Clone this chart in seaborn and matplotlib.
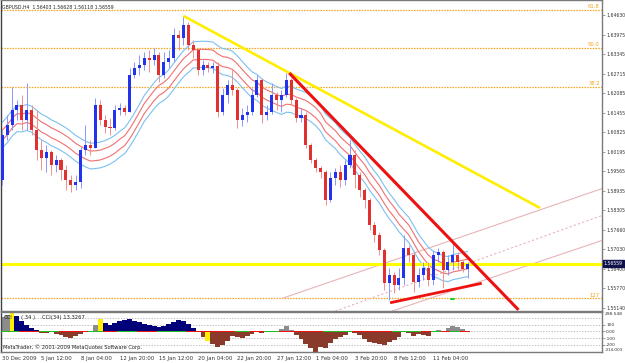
import numpy as np
import pandas as pd
import matplotlib
matplotlib.use("Agg")
import matplotlib.pyplot as plt
import matplotlib.transforms as mtrans
import seaborn as sns

# ---------------- data ----------------
title_text = "GBPUSD,H4  1.56403 1.56628 1.56118 1.56559"
first_open = 1.5928
close = [1.6073, 1.6106, 1.6154, 1.6171, 1.6122, 1.6154, 1.6090, 1.6025, 1.5999, 1.6018,
         1.5976, 1.5992, 1.5960, 1.5928, 1.5911, 1.5921, 1.6025, 1.6041, 1.6031, 1.6171,
         1.6122, 1.6099, 1.6096, 1.6154, 1.6161, 1.6148, 1.6268, 1.6290, 1.6300, 1.6323,
         1.6316, 1.6332, 1.6268, 1.6310, 1.6323, 1.6397, 1.6388, 1.6430, 1.6365, 1.6349,
         1.6284, 1.6300, 1.6290, 1.6297, 1.6148, 1.6203, 1.6235, 1.6219, 1.6122, 1.6138,
         1.6148, 1.6203, 1.6251, 1.6138, 1.6148, 1.6203, 1.6187, 1.6203, 1.6251, 1.6187,
         1.6128, 1.6138, 1.6041, 1.5992, 1.5966, 1.5954, 1.5863, 1.5934, 1.5954, 1.5928,
         1.5976, 1.6009, 1.5944, 1.5895, 1.5863, 1.5782, 1.5749, 1.5701, 1.5594, 1.5620,
         1.5588, 1.5610, 1.5707, 1.5685, 1.5597, 1.5620, 1.5643, 1.5604, 1.5685, 1.5694,
         1.5636, 1.5662, 1.5685, 1.5662, 1.5640, 1.56559]
high = [1.6090, 1.6138, 1.6229, 1.6187, 1.6203, 1.6242, 1.6171, 1.6154, 1.6057, 1.6041,
        1.6025, 1.6009, 1.5999, 1.5976, 1.5944, 1.5944, 1.6034, 1.6106, 1.6057, 1.6193,
        1.6187, 1.6138, 1.6128, 1.6171, 1.6177, 1.6171, 1.6290, 1.6310, 1.6332, 1.6342,
        1.6349, 1.6355, 1.6342, 1.6342, 1.6349, 1.6420, 1.6413, 1.6459, 1.6439, 1.6381,
        1.6355, 1.6316, 1.6310, 1.6310, 1.6310, 1.6226, 1.6251, 1.6284, 1.6226, 1.6161,
        1.6171, 1.6226, 1.6268, 1.6258, 1.6171, 1.6242, 1.6213, 1.6219, 1.6274, 1.6258,
        1.6193, 1.6161, 1.6148, 1.6047, 1.5999, 1.5973, 1.5960, 1.5954, 1.5966, 1.5976,
        1.5992, 1.6057, 1.6025, 1.5954, 1.5902, 1.5869, 1.5792, 1.5759, 1.5707, 1.5643,
        1.5630, 1.5643, 1.5749, 1.5717, 1.5694, 1.5643, 1.5662, 1.5662, 1.5698, 1.5707,
        1.5701, 1.5685, 1.5724, 1.5694, 1.5669, 1.56628]
low = [1.5911, 1.6057, 1.6090, 1.6122, 1.6090, 1.6090, 1.6073, 1.5992, 1.5960, 1.5954,
       1.5944, 1.5954, 1.5928, 1.5895, 1.5889, 1.5895, 1.5902, 1.6009, 1.6009, 1.6031,
       1.6106, 1.6080, 1.6073, 1.6090, 1.6138, 1.6138, 1.6148, 1.6258, 1.6268, 1.6284,
       1.6277, 1.6300, 1.6245, 1.6258, 1.6290, 1.6310, 1.6349, 1.6365, 1.6349, 1.6323,
       1.6268, 1.6268, 1.6277, 1.6274, 1.6132, 1.6138, 1.6177, 1.6203, 1.6096, 1.6102,
       1.6115, 1.6138, 1.6196, 1.6112, 1.6122, 1.6141, 1.6154, 1.6148, 1.6196, 1.6171,
       1.6115, 1.6115, 1.6031, 1.5983, 1.5954, 1.5934, 1.5847, 1.5856, 1.5911, 1.5905,
       1.5911, 1.5966, 1.5902, 1.5873, 1.5837, 1.5766, 1.5727, 1.5685, 1.5571, 1.5539,
       1.5562, 1.5571, 1.5588, 1.5662, 1.5565, 1.5581, 1.5604, 1.5584, 1.5588, 1.5662,
       1.5578, 1.5620, 1.5636, 1.5636, 1.5630, 1.56118]

cci = [220, 250, 297, 235, 160, 95, 50, 20, -25, -25,
       -10, -40, -60, -90, -95, -75, -40, -10, 5, 95,
       190, 125, 95, 125, 160, 175, 190, 160, 145, 110,
       95, 80, 65, 80, 110, 145, 175, 160, 110, 50,
       -10, -90, -150, -195, -240, -210, -150, -75, -90, -100,
       -75, -40, -10, -25, -10, 5, -10, 35, 80, 20,
       -60, -120, -195, -255, -314, -240, -255, -180, -120, -90,
       -60, -10, -25, -60, -120, -165, -180, -195, -210, -165,
       -135, -90, -10, -25, -75, -40, -60, -75, -10, 20,
       5, 50, 80, 65, 35, 13.3]
cci_state = ("gg" + "y" + "n" * 5 + "b" * 10 + "gg" + "y" + "n" * 19 + "bb" + "y"
             + "b" * 12 + "g" + "b" + "ggg" + "b" * 29 + "g" * 7)
zero_state = ("g" * 4 + "r" * 4 + "g" * 4 + "r" * 6 + "g" * 3 + "r" * 3 + "g" * 4 + "r" * 4
              + "g" * 6 + "r" * 10 + "g" * 3 + "r" * 3 + "g" * 3 + "r" * 9 + "g" * 6 + "r" * 8
              + "g" * 6 + "r" * 2 + "g" * 2 + "r" * 2 + "g" * 2 + "r" * 2)

time_labels = ["30 Dec 2009", "5 Jan 12:00", "8 Jan 04:00", "12 Jan 20:00", "15 Jan 12:00",
               "20 Jan 04:00", "22 Jan 20:00", "27 Jan 12:00", "1 Feb 04:00", "3 Feb 20:00",
               "8 Feb 12:00", "11 Feb 04:00"]
time_label_bars = [0, 8, 16, 24, 32, 40, 48, 56, 64, 72, 80, 88]
price_labels = ["1.64630", "1.63975", "1.63345", "1.62715", "1.62085", "1.61455", "1.60825",
                "1.60195", "1.59565", "1.58935", "1.58305", "1.57660", "1.57030", "1.56400",
                "1.55770", "1.55140"]
last_price = 1.56559

fib_levels = [1.6477, 1.6354, 1.6230, 1.5544]
fib_names = ["61.8", "50.0", "38.2", "127"]

yellow_trend_bars = [37.0, 109.8]
yellow_trend_prices = [1.6459, 1.5837]
red_trend_bars = [58.6, 105.4]
red_trend_prices = [1.6274, 1.5507]
support_bars = [79.2, 97.9]
support_prices = [1.5530, 1.5593]
chan_upper_bars = [57.1, 122.7]
chan_upper_prices = [1.5544, 1.5901]
chan_mid_bars = [68.0, 122.7]
chan_mid_prices = [1.5503, 1.5814]
chan_lower_bars = [79.6, 122.7]
chan_lower_prices = [1.5503, 1.5733]
green_mark_bars = [91.7, 92.3]
green_mark_prices = [1.5542, 1.5542]

ma_period = 14
env_inner = 0.0010
env_outer = 0.0026

cci_top_label = "298.548"
cci_bottom_label = "-314.003"
cci_ticks = [100, 0, -100, -200]
cci_tick_labels = ["100", "0.00", "-100", "-200"]
cci_grid = [200, 100, 0, -100, -200]

# ---------------- build ----------------
sns.set_theme(style="white")
plt.rcParams["font.family"] = ["DejaVu Sans"]

n = len(close)
bars = np.arange(n)
opens = np.array([first_open] + close[:-1])
closes = np.array(close)
highs = np.array(high)
lows = np.array(low)
df = pd.DataFrame({"bar": bars, "open": opens, "close": closes, "high": highs, "low": lows})
ma = df["close"].rolling(ma_period, min_periods=1).mean()
lines_df = pd.DataFrame({
    "bar": bars,
    "blue_up": ma * (1 + env_outer), "blue_dn": ma * (1 - env_outer),
    "red_up": ma * (1 + env_inner), "red_dn": ma * (1 - env_inner),
})

W, H = 625, 363
fig = plt.figure(figsize=(W / 100, H / 100), dpi=100)
fig.patch.set_facecolor("white")
ax = fig.add_axes([1 / W, 1 - 311 / H, 601 / W, 311 / H])
cax = fig.add_axes([1 / W, 1 - 352 / H, 601 / W, 40 / H])

xlim = (-0.25, 122.45)
frame_col = "#7a7a7a"
lab_fs = 3.35

# main panel
ax.set_facecolor("white")
ax.set_xlim(*xlim)
ax.set_ylim(1.55033, 1.65106)

for lvl, name in zip(fib_levels, fib_names):
    ax.axhline(lvl, color="#f4a41c", lw=0.9, ls=(0, (1.2, 1.0)), zorder=1)
    ax.text(122.0, lvl + 0.0003, name, color="#f4a41c", fontsize=3.8,
            ha="right", va="bottom", zorder=2)

ax.plot(chan_upper_bars, chan_upper_prices, color="#e8b4b8", lw=0.8, zorder=1)
ax.plot(chan_mid_bars, chan_mid_prices, color="#e8b4b8", lw=0.8, ls=(0, (2, 2)), zorder=1)
ax.plot(chan_lower_bars, chan_lower_prices, color="#e8b4b8", lw=0.8, zorder=1)

for col, c in [("blue_up", "#7cc0f0"), ("blue_dn", "#7cc0f0"),
               ("red_up", "#f07070"), ("red_dn", "#f07070")]:
    sns.lineplot(data=lines_df, x="bar", y=col, ax=ax, color=c, lw=0.8, zorder=2)

ax.axhline(last_price, color="#ffff00", lw=2.2, zorder=2.5)

bull = closes >= opens
wick_col = np.where(bull, "#8a96ff", "#f09090")
body_col = np.where(bull, "#2233ee", "#e03030")
ax.vlines(bars, lows, highs, colors=wick_col, lw=0.7, zorder=3)
body_low = np.minimum(opens, closes)
body_h = np.maximum(np.abs(closes - opens), 0.00012)
ax.bar(bars, body_h, bottom=body_low, width=0.62, color=body_col, lw=0, zorder=3.5)

ax.plot(yellow_trend_bars, yellow_trend_prices, color="#ffee00", lw=1.9, zorder=4,
        solid_capstyle="butt")
ax.plot(red_trend_bars, red_trend_prices, color="#ee1111", lw=2.2, zorder=4,
        solid_capstyle="butt")
ax.plot(support_bars, support_prices, color="#ee1111", lw=2.0, zorder=4,
        solid_capstyle="butt")
ax.plot(green_mark_bars, green_mark_prices, color="#22cc22", lw=1.5, zorder=4)

ax.yaxis.tick_right()
ax.set_yticks([float(p) for p in price_labels])
ax.set_yticklabels(price_labels, fontsize=lab_fs)
ax.tick_params(axis="y", direction="out", length=2, width=0.5, pad=1.0,
               colors=frame_col, labelcolor="#333333")
ax.set_xticks([])
ax.set_xlabel("")
ax.set_ylabel("")
for s in ax.spines.values():
    s.set_color(frame_col)
    s.set_linewidth(1.0)
ax.spines["left"].set_color("#404040")

tr = mtrans.blended_transform_factory(ax.transAxes, ax.transData)
ax.text(1.003, last_price, f"{last_price:.5f}", transform=tr, fontsize=lab_fs, color="white",
        ha="left", va="center", zorder=10,
        bbox=dict(boxstyle="square,pad=0.2", fc="#10104a", ec="#10104a"))

ax.text(0.002, 0.985, title_text, transform=ax.transAxes, fontsize=3.3,
        color="#222222", ha="left", va="top", zorder=6)

# CCI panel
cax.set_facecolor("white")
cax.set_xlim(*xlim)
cax.set_ylim(-314, 298.5)
for g in cci_grid:
    cax.axhline(g, color="#a8a8a8", lw=0.5, ls=(0, (2, 2)), zorder=1)
state_colors = {"n": "#00007a", "b": "#8a3a2a", "g": "#8c8c8c", "y": "#ffee00"}
cci_cols = [state_colors[s] for s in cci_state]
cax.bar(bars, cci, width=1.0, color=cci_cols, lw=0, zorder=2)
zcols = ["#22bb22" if s == "g" else "#ee1111" for s in zero_state]
cax.bar(bars, np.full(n, 24.0), bottom=-12.0, width=1.0, color=zcols, lw=0, zorder=3)

cax.yaxis.tick_right()
cax.set_yticks(cci_ticks)
cax.set_yticklabels(cci_tick_labels, fontsize=3.2)
cax.tick_params(axis="y", direction="out", length=2, width=0.5, pad=1.0,
                colors=frame_col, labelcolor="#333333")
cax.set_xticks(time_label_bars)
cax.set_xticklabels(time_labels, fontsize=3.9)
cax.tick_params(axis="x", direction="out", length=2, width=0.5, pad=1.0,
                colors=frame_col, labelcolor="#333333")
for lbl in cax.get_xticklabels():
    lbl.set_horizontalalignment("left")
cax.set_xlabel("")
cax.set_ylabel("")
for s in cax.spines.values():
    s.set_color(frame_col)
    s.set_linewidth(1.0)
cax.spines["left"].set_color("#404040")

cax.text(1.004, 1.0, cci_top_label, transform=cax.transAxes, fontsize=3.2,
         color="#333333", ha="left", va="top")
cax.text(1.004, 0.0, cci_bottom_label, transform=cax.transAxes, fontsize=3.0,
         color="#333333", ha="left", va="bottom")
cax.text(0.004, 0.86, "CCI", transform=cax.transAxes, fontsize=3.8, color="#222222",
         ha="left", va="center", zorder=6)
cax.text(0.034, 0.86, "( 34 )", transform=cax.transAxes, fontsize=3.8, color="#222222",
         ha="left", va="center", zorder=6)
cax.text(0.068, 0.86, "CCI(34) 13.3267", transform=cax.transAxes, fontsize=3.8,
         color="#222222", ha="left", va="center", zorder=6)
cax.text(0.004, 0.12, "MetaTrader, \u00a9 2001-2009 MetaQuotes Software Corp.",
         transform=cax.transAxes, fontsize=3.7, color="#222222", ha="left",
         va="center", zorder=6)

fig.savefig("out.png", dpi=100, facecolor="white")
